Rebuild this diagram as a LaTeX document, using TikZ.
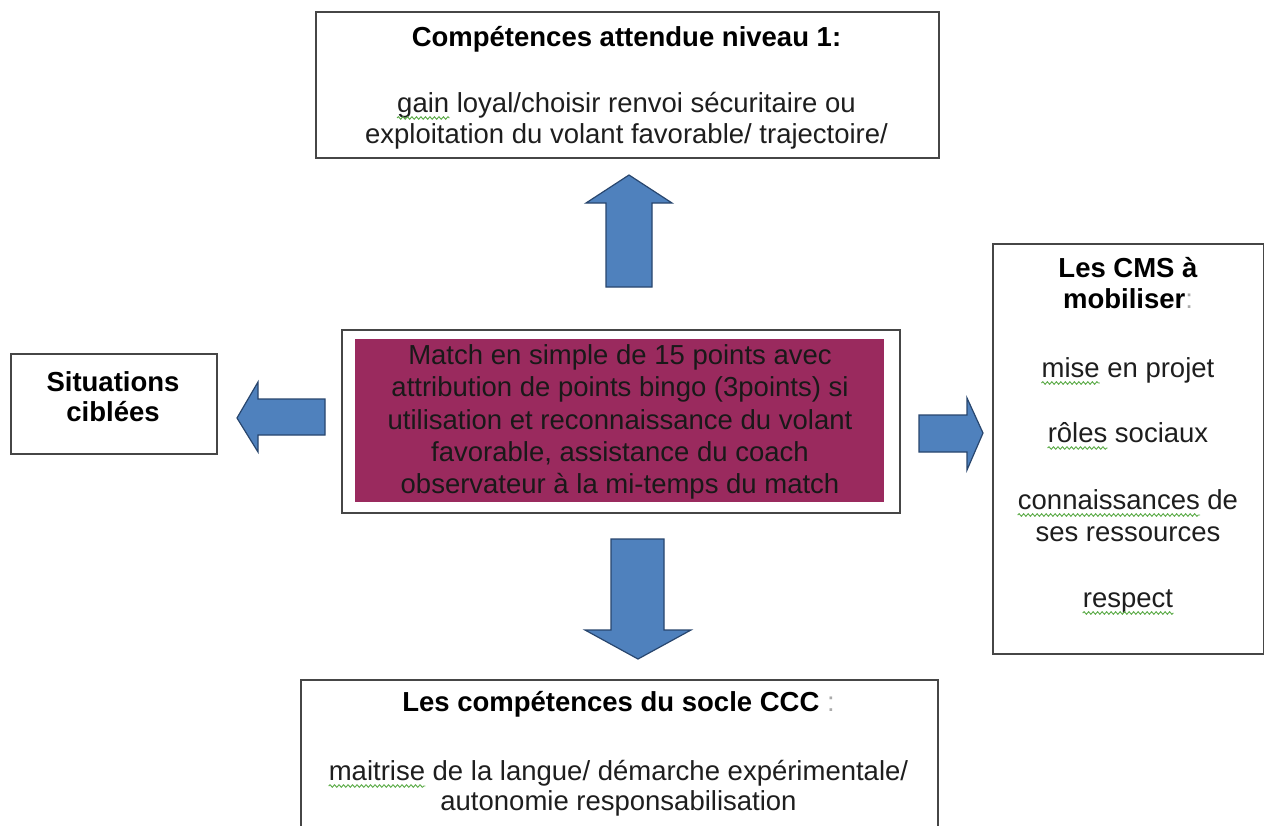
\documentclass[tikz,border=0pt]{standalone}
\usepackage{fontspec}
\setmainfont{Liberation Sans}
\usetikzlibrary{decorations.pathmorphing}
\definecolor{boxline}{RGB}{70,70,70}
\definecolor{arrowfill}{RGB}{79,129,189}
\definecolor{arrowline}{RGB}{40,70,110}
\definecolor{plum}{RGB}{154,42,94}
\definecolor{wavegreen}{RGB}{90,170,70}
\definecolor{inktext}{RGB}{30,30,30}
\definecolor{colongray}{RGB}{170,170,170}
\begin{document}
\begin{tikzpicture}[x=1pt,y=-1pt,
  frame/.style={draw=boxline, line width=1.6pt, fill=white, inner sep=0pt, anchor=north west},
  plumfill/.style={fill=plum, draw=none, inner sep=0pt, anchor=north west},
  txt/.style={inner sep=0pt, anchor=base, font=\fontsize{27.5}{31.5}\selectfont, text=inktext},
  ttl/.style={inner sep=0pt, anchor=base, font=\fontsize{27.5}{31.5}\selectfont\bfseries, text=black},
  blockarrow/.style={fill=arrowfill, draw=arrowline, line width=1.2pt, line join=miter},
  ghost/.style={inner sep=0pt, anchor=base west, font=\fontsize{27.5}{31.5}\selectfont},
  wavy/.style={draw=wavegreen, line width=0.9pt, decorate, decoration={snake, amplitude=1.3pt, segment length=4.5pt}}
]
\clip (0,0) rectangle (1264,825);
\fill[white] (0,0) rectangle (1264,825);

% boxes
\node[frame, minimum width=623pt, minimum height=146pt] (top) at (315,11) {};
\node[frame, minimum width=206pt, minimum height=100pt] (left) at (10,353) {};
\node[frame, minimum width=271pt, minimum height=410pt] (right) at (992,243) {};
\node[frame, minimum width=637pt, minimum height=170pt] (bottom) at (300,679) {};
\node[frame, minimum width=558pt, minimum height=183pt] (center) at (341,329) {};
\node[plumfill, minimum width=529pt, minimum height=163pt] (centerfill) at (355,339) {};

% block arrows
\draw[blockarrow] (606,287) -- (606,203) -- (586,203) -- (629,175) -- (672,203) -- (652,203) -- (652,287) -- cycle;
\draw[blockarrow] (611,539) -- (664,539) -- (664,630) -- (691,630) -- (638,659) -- (585,630) -- (611,630) -- cycle;
\draw[blockarrow] (325,399) -- (258,399) -- (258,382) -- (237,418) -- (258,452) -- (258,435) -- (325,435) -- cycle;
\draw[blockarrow] (919,415) -- (967,415) -- (967,398) -- (983,433) -- (967,470) -- (967,452) -- (919,452) -- cycle;

% top box text
\node[ttl] (tTitle) at (626.5,46) {Compétences attendue niveau 1:};
\node[txt] (tL1) at (626.5,112) {gain loyal/choisir renvoi sécuritaire ou};
\node[txt] (tL2) at (626.5,143) {exploitation du volant favorable/ trajectoire/};

% center text
\node[txt, text=black!90] (cL1) at (620,364) {Match en simple de 15 points avec};
\node[txt, text=black!90] (cL2) at (620,396) {attribution de points bingo (3points) si};
\node[txt, text=black!90] (cL3) at (620,429) {utilisation et reconnaissance du volant};
\node[txt, text=black!90] (cL4) at (620,461) {favorable, assistance du coach};
\node[txt, text=black!90] (cL5) at (620,493) {observateur à la mi-temps du match};

% left box text
\node[ttl] (lL1) at (113,391) {Situations};
\node[ttl] (lL2) at (113,421) {ciblées};

% right box text
\node[ttl] (rL1) at (1128,277) {Les CMS à};
\node[ttl] (rL2) at (1128,308) {mobiliser{\mdseries\color{colongray}:}};
\node[txt] (rL3) at (1128,377) {mise en projet};
\node[txt] (rL4) at (1128,442) {rôles sociaux};
\node[txt] (rL5) at (1128,509) {connaissances de};
\node[txt] (rL6) at (1128,541) {ses ressources};
\node[txt] (rL7) at (1128,607) {respect};

% bottom box text
\node[ttl] (bTitle) at (618.5,711) {Les compétences du socle CCC {\mdseries\color{colongray}:}};
\node[txt] (bL1) at (618.5,780) {maitrise de la langue/ démarche expérimentale/};
\node[txt] (bL2) at (618.5,810) {autonomie responsabilisation};

% spell-check wavy underlines
\node[ghost] (g1) at (tL1.base west) {\phantom{gain}};
\node[ghost] (g2) at (rL3.base west) {\phantom{mise}};
\node[ghost] (g3) at (rL4.base west) {\phantom{rôles}};
\node[ghost] (g4) at (rL5.base west) {\phantom{connaissances}};
\node[ghost] (g5) at (rL7.base west) {\phantom{respect}};
\node[ghost] (g6) at (bL1.base west) {\phantom{maitrise}};
\foreach \g in {g1,g2,g3,g4,g5,g6}
  \draw[wavy] ([yshift=-6pt]\g.base west) -- ([yshift=-6pt]\g.base east);
\end{tikzpicture}
\end{document}
